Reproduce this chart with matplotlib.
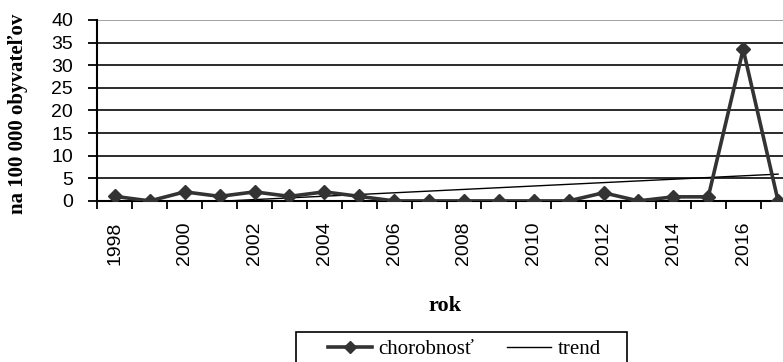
import matplotlib.pyplot as plt
from matplotlib.patches import Rectangle
import numpy as np

# chorobnost na 100 000 obyvatelov, roky 1998-2017
years = list(range(1998, 2018))
chorobnost = [1.0, 0.0, 2.0, 1.0, 2.0, 1.0, 2.0, 1.0, 0.0, 0.0,
              0.0, 0.0, 0.0, 0.0, 1.8, 0.0, 0.9, 0.9, 33.5, 0.0]
y_ticks = [0, 5, 10, 15, 20, 25, 30, 35, 40]

idx = np.arange(len(years))
# linearny trend (ako v Exceli)
k, q = np.polyfit(idx, chorobnost, 1)
trend = k * idx + q

serif = ['Liberation Serif', 'DejaVu Serif']
plt.rcParams['font.family'] = ['Liberation Sans', 'DejaVu Sans']
fig = plt.figure(figsize=(7.83, 3.62), dpi=100)
ax = fig.add_axes([0.1245, 0.445, 0.8915, 0.5])

# grid
for v in y_ticks[1:-1]:
    ax.axhline(v, color='#1a1a1a', lw=1.3, zorder=1)
ax.axhline(40, color='#9a9a9a', lw=1.3, zorder=1)

ax.plot(idx, trend, color='black', lw=1.0, label='trend', zorder=2)
ax.plot(idx, chorobnost, color='#333333', lw=2.6, marker='D', ms=7,
        label='chorobnosť', zorder=3)

ax.set_xlim(-0.5, len(years) - 0.5)
ax.set_ylim(0, 40)
ax.set_yticks(y_ticks)
ax.tick_params(axis='y', labelsize=14, length=6.5, width=1.3, direction='out', pad=11)

# ticks on category borders, labels every second year
ax.set_xticks(np.arange(-0.5, len(years), 1.0))
ax.set_xticklabels([])
ax.tick_params(axis='x', which='major', length=6, width=1.3, direction='out')
ax.set_xticks(idx[::2], minor=True)
ax.set_xticklabels([str(y) for y in years[::2]], minor=True, rotation=90, fontsize=14)
ax.tick_params(axis='x', which='minor', length=0, pad=15)

for s in ['top', 'right']:
    ax.spines[s].set_visible(False)
ax.spines['left'].set_linewidth(1.5)
ax.spines['bottom'].set_linewidth(1.5)

ax.set_ylabel('na 100 000 obyvateľov', fontsize=15, fontweight='bold', family=serif)
ax.yaxis.set_label_coords(-0.1, 0.48)
fig.text(0.568, 0.141, 'rok', fontsize=16, fontweight='bold', family=serif, ha='center')

h, l = ax.get_legend_handles_labels()
leg = fig.legend(h[::-1], l[::-1], loc='center', bbox_to_anchor=(0.593, 0.035),
                 ncol=2, frameon=False,
                 prop={'family': serif, 'size': 15},
                 handlelength=2.1, columnspacing=1.6, handletextpad=0.3)
for hh in leg.legend_handles:
    hh.set_markersize(6)
# legend box
fig.patches.append(Rectangle((0.378, -0.05), 0.423, 0.133, transform=fig.transFigure,
                             fill=False, edgecolor='black', lw=1.2))

plt.savefig('out.png', dpi=100)
